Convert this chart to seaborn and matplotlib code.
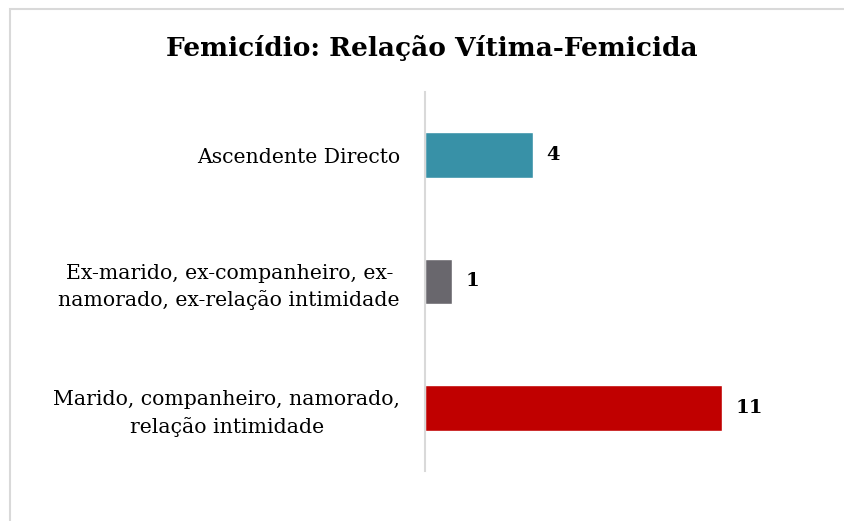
import numpy as np
import pandas as pd
import seaborn as sns
import matplotlib.pyplot as plt
from matplotlib.patches import Rectangle

# Data
categories = [
    "Ascendente Directo",
    "Ex-marido, ex-companheiro, ex-\nnamorado, ex-relação intimidade",
    "Marido, companheiro, namorado,\nrelação intimidade",
]
values = [4, 1, 11]
colors = ["#3891a7", "#69676d", "#c00000"]

df = pd.DataFrame({"categoria": categories, "valor": values})

sns.set_style("white")
plt.rcParams["font.family"] = ["DejaVu Serif"]
plt.rcParams["text.color"] = "black"
plt.rcParams["ytick.color"] = "black"

fig = plt.figure(figsize=(8.44, 5.21), dpi=100)
ax = fig.add_axes([425 / 844, 1 - 471 / 521, 324 / 844, 379 / 521])

sns.barplot(
    data=df,
    x="valor",
    y="categoria",
    hue="categoria",
    palette=colors,
    orient="h",
    width=0.36,
    saturation=1,
    legend=False,
    ax=ax,
)

ax.set_xlim(0, 12)
ax.set_ylim(2.5, -0.5)
ax.set_xlabel("")
ax.set_ylabel("")
ax.set_xticks([])
for side in ["top", "right", "bottom"]:
    ax.spines[side].set_visible(False)
ax.spines["left"].set_color("#d9d9d9")
ax.spines["left"].set_linewidth(1.5)
ax.tick_params(axis="y", length=0, pad=18, labelsize=14.7)
for lab in ax.get_yticklabels():
    lab.set_horizontalalignment("right")
    lab.set_multialignment("center")
    lab.set_linespacing(1.45)

# value labels
for i, v in enumerate(values):
    ax.text(v + 0.5, i, str(v), va="center", ha="left",
            fontsize=14, fontweight="bold")

fig.suptitle("Femicídio: Relação Vítima-Femicida", x=432 / 844, y=1 - 48 / 521,
             va="center", fontsize=19, fontweight="bold")

# chart frame (cropped at right and bottom in the reference)
fig.patches.append(Rectangle((10 / 844, -0.1), 1.0, 1 - 9 / 521 + 0.1,
                             transform=fig.transFigure, fill=False,
                             edgecolor="#d9d9d9", linewidth=1.5))

plt.savefig("out.png", dpi=100)
